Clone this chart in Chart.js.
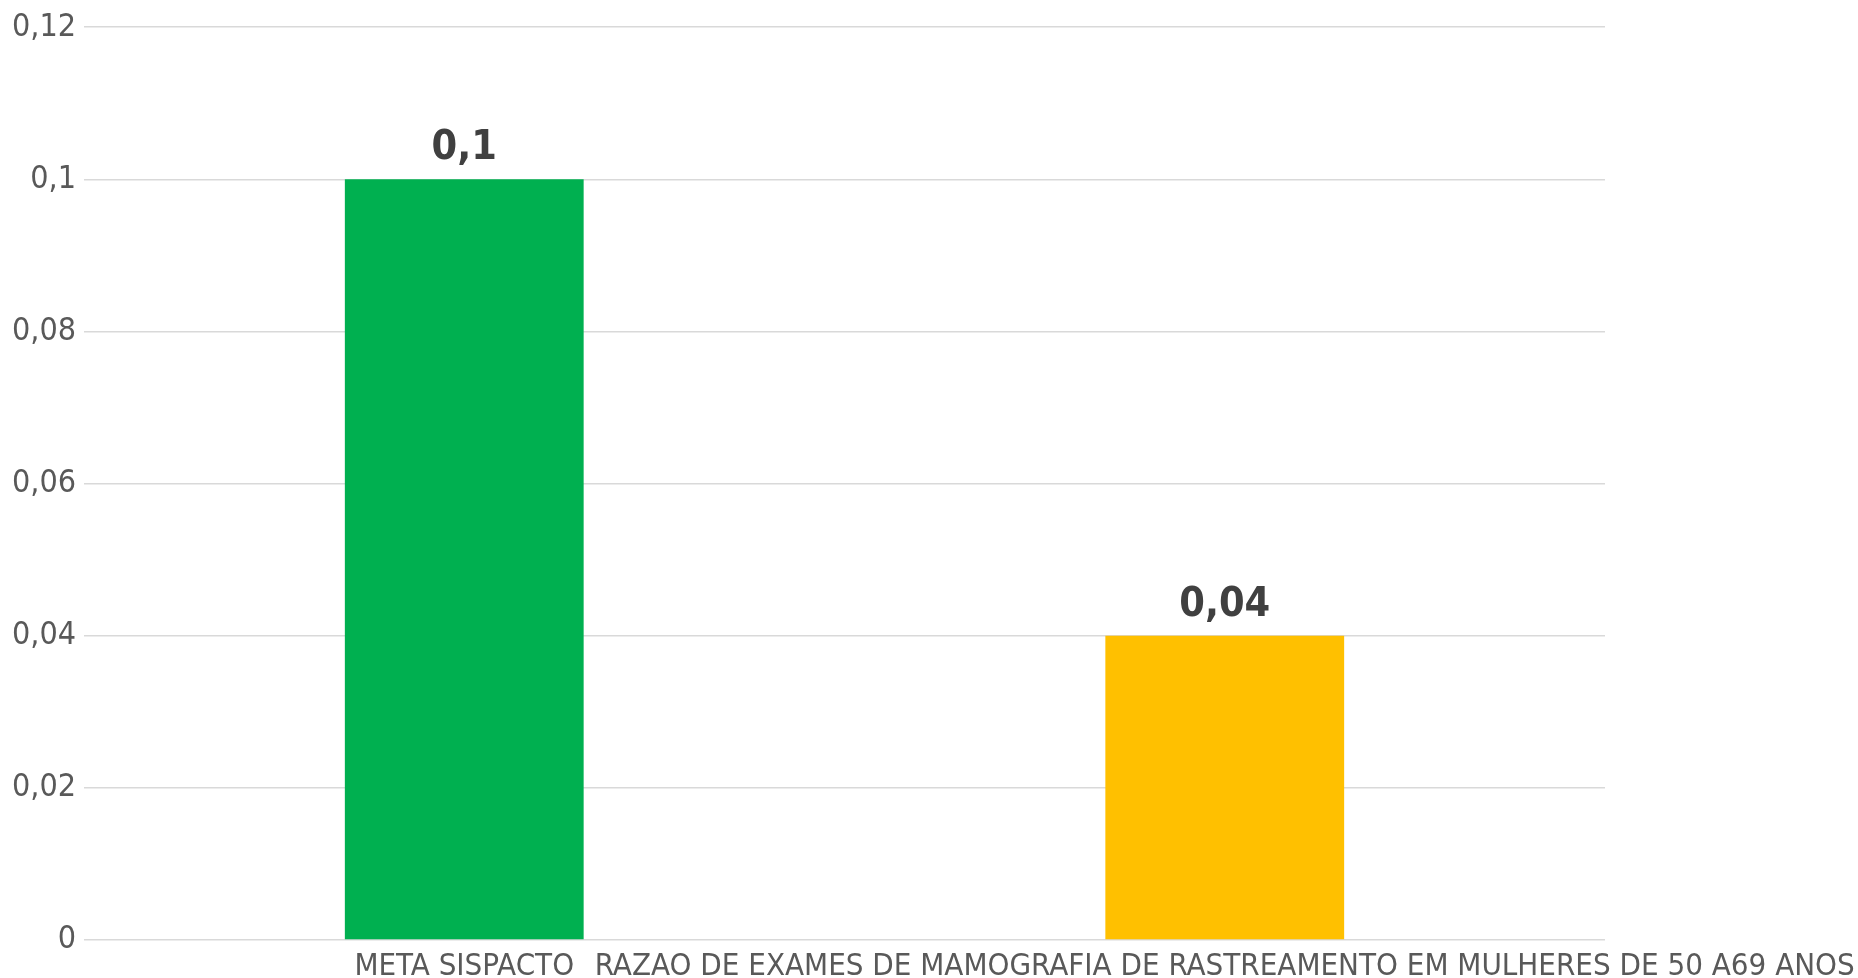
<!DOCTYPE html>
<html>
<head>
<meta charset="utf-8">
<title>Razão de exames de mamografia</title>
<script src="https://cdn.jsdelivr.net/npm/chart.js@4.4.0/dist/chart.umd.min.js"></script>
<style>
    html, body { margin: 0; padding: 0; background: #ffffff; }
    #grafico { display: block; }
</style>
</head>
<body>
<canvas id="grafico" width="1858" height="978"></canvas>
<script>
// Dados do gráfico.
var categorias = ['META SISPACTO',
    'RAZAO DE EXAMES DE MAMOGRAFIA DE RASTREAMENTO EM MULHERES DE 50 A69 ANOS'];
var valores = [0.1, 0.04];
var cores = ['#00B050', '#FFC000'];
var yMin = 0;
var yMax = 0.12;
var yPasso = 0.02;

var fonte = "'DejaVu Sans Condensed', 'DejaVu Sans', sans-serif";

// Formata numero com virgula decimal, como no Excel.
function formatar(v) {
    return String(Math.round(v * 1000) / 1000).replace('.', ',');
}

// Desenha os nomes das categorias abaixo do eixo, sem cortar nem girar.
var rotulosCategorias = {
    id: 'rotulosCategorias',
    afterDraw: function (chart) {
        var ctx = chart.ctx;
        var eixo = chart.scales.x;
        ctx.save();
        ctx.font = '31px ' + fonte;
        ctx.fillStyle = '#595959';
        ctx.textAlign = 'center';
        ctx.textBaseline = 'alphabetic';
        for (var i = 0; i < categorias.length; i++) {
            ctx.fillText(categorias[i], eixo.getPixelForValue(i),
                chart.chartArea.bottom + 35);
        }
        ctx.restore();
    }
};

// Desenha o valor em cima de cada barra.
var rotulosValores = {
    id: 'rotulosValores',
    afterDatasetsDraw: function (chart) {
        var ctx = chart.ctx;
        var barras = chart.getDatasetMeta(0).data;
        ctx.save();
        ctx.font = 'bold 41px ' + fonte;
        ctx.fillStyle = '#404040';
        ctx.textAlign = 'center';
        ctx.textBaseline = 'alphabetic';
        for (var i = 0; i < barras.length; i++) {
            ctx.fillText(formatar(valores[i]), barras[i].x, barras[i].y - 20);
        }
        ctx.restore();
    }
};

var context = document.getElementById('grafico').getContext('2d');
var chart = new Chart(context, {
    type: 'bar',
    data: {
        labels: categorias,
        datasets: [{
            data: valores,
            backgroundColor: cores,
            borderWidth: 0,
            categoryPercentage: 1,
            barPercentage: 0.314
        }]
    },
    options: {
        responsive: false,
        animation: false,
        layout: { padding: { top: 23, right: 253, bottom: 0, left: 0 } },
        plugins: {
            legend: { display: false },
            tooltip: { enabled: false }
        },
        scales: {
            x: {
                grid: { display: false },
                border: { display: false },
                ticks: { display: false },
                afterFit: function (s) { s.height = 38; }
            },
            y: {
                min: yMin,
                max: yMax,
                ticks: {
                    stepSize: yPasso,
                    padding: 8,
                    color: '#595959',
                    font: { family: fonte, size: 32 },
                    callback: function (v) { return formatar(v); }
                },
                grid: { color: '#d9d9d9', lineWidth: 1.5, drawTicks: false },
                border: { display: false },
                afterFit: function (s) { s.width = 84; }
            }
        }
    },
    plugins: [rotulosCategorias, rotulosValores]
});
</script>
</body>
</html>
